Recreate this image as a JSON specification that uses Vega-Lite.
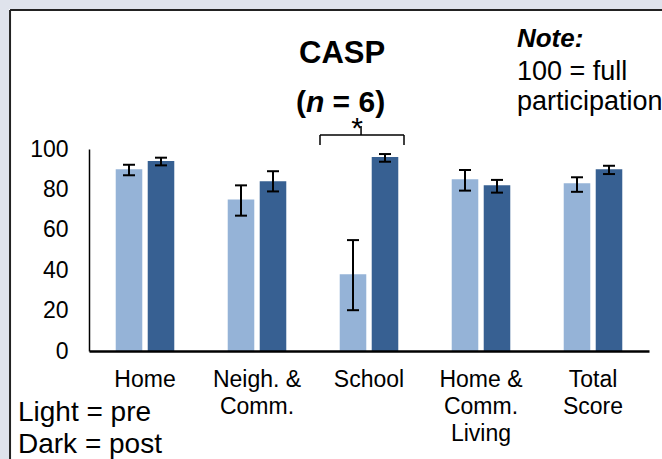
{
  "$schema": "https://vega.github.io/schema/vega-lite/v6.json",
  "width": 560,
  "height": 202,
  "autosize": {"type": "none"},
  "padding": {"left": 89, "top": 149, "right": 13, "bottom": 108},
  "background": "#ffffff",
  "config": {
    "font": "Liberation Sans",
    "view": {"stroke": null},
    "axis": {"grid": false, "ticks": false, "labelColor": "#000", "domainColor": "#000"}
  },
  "datasets": {
    "scores": [
      {"domain": "Home", "period": "pre", "mean": 90, "lo": 87, "hi": 92.2},
      {"domain": "Home", "period": "post", "mean": 94, "lo": 91.9, "hi": 95.7},
      {"domain": "Neigh. & Comm.", "period": "pre", "mean": 75, "lo": 67, "hi": 82},
      {"domain": "Neigh. & Comm.", "period": "post", "mean": 84, "lo": 79, "hi": 89},
      {"domain": "School", "period": "pre", "mean": 38, "lo": 20.2, "hi": 54.9},
      {"domain": "School", "period": "post", "mean": 96, "lo": 93.7, "hi": 97.5},
      {"domain": "Home & Comm. Living", "period": "pre", "mean": 85, "lo": 79.4, "hi": 89.6},
      {"domain": "Home & Comm. Living", "period": "post", "mean": 82, "lo": 78.4, "hi": 84.7},
      {"domain": "Total Score", "period": "pre", "mean": 83, "lo": 78.8, "hi": 86},
      {"domain": "Total Score", "period": "post", "mean": 90, "lo": 87.6, "hi": 91.7}
    ],
    "strips": [
      {"u": -1, "u2": -0.714, "v": 200, "v2": -80},
      {"u": -1, "u2": 6, "v": 200, "v2": 169.3}
    ],
    "border": [
      {"u": -0.705, "u2": -0.705, "v": 168.8, "v2": -80},
      {"u": -0.705, "u2": 6, "v": 168.8, "v2": 168.8}
    ],
    "bracket": [
      {"u": 2.0625, "u2": 2.8125, "v": 106.9, "v2": 106.9},
      {"u": 2.0625, "u2": 2.0625, "v": 106.9, "v2": 102},
      {"u": 2.8125, "u2": 2.8125, "v": 106.9, "v2": 102},
      {"u": 2.429, "u2": 2.429, "v": 106.9, "v2": 111.4}
    ],
    "title1": [{"u": 2.26, "v": 142.6, "label": "CASP"}],
    "title2a": [{"u": 1.848, "v": 118.3, "label": "("}, {"u": 2.175, "v": 118.3, "label": "= 6)"}],
    "title2n": [{"u": 1.937, "v": 118.3, "label": "n"}],
    "star": [{"u": 2.393, "v": 105.5, "label": "*"}],
    "noteHead": [{"u": 3.821, "v": 150.5, "label": "Note:"}],
    "noteBody": [{"u": 3.821, "v": 134.2, "label": "100 = full"}, {"u": 3.821, "v": 119.3, "label": "participation"}],
    "legendText": [{"u": -0.634, "v": -34.7, "label": "Light = pre"}, {"u": -0.634, "v": -50.5, "label": "Dark = post"}]
  },
  "layer": [
    {
      "encoding": {
        "x": {"field": "u", "type": "quantitative", "scale": {"domain": [0, 5], "nice": false, "zero": false}, "axis": null},
        "y": {"field": "v", "type": "quantitative", "title": null, "scale": {"domain": [0, 100], "nice": false},
          "axis": {"orient": "left", "values": [0, 20, 40, 60, 80, 100], "labelFontSize": 23, "labelPadding": 21, "domainWidth": 1.5, "title": null}}
      },
      "layer": [
        {
          "data": {"name": "strips"},
          "mark": {"type": "rect", "fill": "#dfe3ec"},
          "encoding": {"x2": {"field": "u2"}, "y2": {"field": "v2"}}
        },
        {
          "data": {"name": "border"},
          "mark": {"type": "rule", "color": "#222222", "strokeWidth": 2},
          "encoding": {"x2": {"field": "u2"}, "y2": {"field": "v2"}}
        },
        {
          "data": {"name": "bracket"},
          "mark": {"type": "rule", "color": "#000000", "strokeWidth": 1.5},
          "encoding": {"x2": {"field": "u2"}, "y2": {"field": "v2"}}
        },
        {
          "data": {"name": "title1"},
          "mark": {"type": "text", "fontSize": 31, "fontWeight": "bold", "align": "center", "baseline": "alphabetic", "color": "#000000"},
          "encoding": {"text": {"field": "label"}}
        },
        {
          "data": {"name": "title2a"},
          "mark": {"type": "text", "fontSize": 30, "fontWeight": "bold", "align": "left", "baseline": "alphabetic", "color": "#000000"},
          "encoding": {"text": {"field": "label"}}
        },
        {
          "data": {"name": "title2n"},
          "mark": {"type": "text", "fontSize": 30, "fontWeight": "bold", "fontStyle": "italic", "align": "left", "baseline": "alphabetic", "color": "#000000"},
          "encoding": {"text": {"field": "label"}}
        },
        {
          "data": {"name": "star"},
          "mark": {"type": "text", "fontSize": 30, "align": "center", "baseline": "alphabetic", "color": "#000000"},
          "encoding": {"text": {"field": "label"}}
        },
        {
          "data": {"name": "noteHead"},
          "mark": {"type": "text", "fontSize": 26, "fontWeight": "bold", "fontStyle": "italic", "align": "left", "baseline": "alphabetic", "color": "#000000"},
          "encoding": {"text": {"field": "label"}}
        },
        {
          "data": {"name": "noteBody"},
          "mark": {"type": "text", "fontSize": 27, "align": "left", "baseline": "alphabetic", "color": "#000000"},
          "encoding": {"text": {"field": "label"}}
        },
        {
          "data": {"name": "legendText"},
          "mark": {"type": "text", "fontSize": 28, "align": "left", "baseline": "alphabetic", "color": "#000000"},
          "encoding": {"text": {"field": "label"}}
        }
      ]
    },
    {
      "data": {"name": "scores"},
      "encoding": {
        "x": {
          "field": "domain", "type": "nominal", "sort": null, "title": null,
          "scale": {"paddingInner": 0, "paddingOuter": 0},
          "axis": {
            "zindex": 2,
            "labelAngle": 0, "labelFontSize": 23, "labelLineHeight": 27, "labelPadding": 17,
            "domainWidth": 2.5, "labelOverlap": false, "labelLimit": 200,
            "labelExpr": "datum.value == 'Neigh. & Comm.' ? ['Neigh. &', 'Comm.'] : datum.value == 'Home & Comm. Living' ? ['Home &', 'Comm.', 'Living'] : datum.value == 'Total Score' ? ['Total', 'Score'] : datum.value"
          }
        },
        "xOffset": {"field": "period", "type": "nominal", "sort": ["pre", "post"], "scale": {"paddingInner": 0.17, "paddingOuter": 0.835}}
      },
      "layer": [
        {
          "mark": {"type": "bar"},
          "encoding": {
            "y": {"field": "mean", "type": "quantitative", "scale": {"domain": [0, 100], "nice": false}, "axis": null},
            "color": {"field": "period", "type": "nominal", "scale": {"domain": ["pre", "post"], "range": ["#95b3d7", "#376092"]}, "legend": null}
          }
        },
        {
          "mark": {"type": "rule", "color": "#000000", "strokeWidth": 2},
          "encoding": {
            "y": {"field": "lo", "type": "quantitative", "scale": {"domain": [0, 100], "nice": false}, "axis": null},
            "y2": {"field": "hi"}
          }
        },
        {
          "mark": {"type": "tick", "color": "#000000", "thickness": 2, "size": 12, "opacity": 1},
          "encoding": {"y": {"field": "lo", "type": "quantitative", "scale": {"domain": [0, 100], "nice": false}, "axis": null}}
        },
        {
          "mark": {"type": "tick", "color": "#000000", "thickness": 2, "size": 12, "opacity": 1},
          "encoding": {"y": {"field": "hi", "type": "quantitative", "scale": {"domain": [0, 100], "nice": false}, "axis": null}}
        }
      ]
    }
  ],
  "resolve": {"scale": {"x": "independent", "y": "independent"}}
}
